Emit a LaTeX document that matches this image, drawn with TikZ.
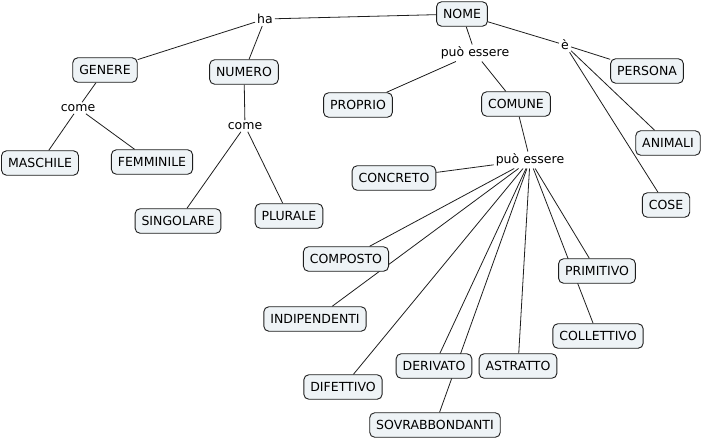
\documentclass[tikz,border=0pt]{standalone}
\usepackage{fontspec}
\setmainfont{DejaVu Sans}
\usetikzlibrary{backgrounds}
\definecolor{cfill}{RGB}{238,243,246}
\definecolor{cline}{RGB}{30,30,30}
\begin{document}
\begin{tikzpicture}[x=1pt,y=-1pt,
  concept/.style={draw=cline,fill=cfill,rounded corners=5pt,line width=0.9pt,
    inner xsep=6.5pt,inner ysep=0pt,minimum height=24.5pt,font=\fontsize{12.5}{14}\selectfont},
  linkl/.style={inner sep=2pt,font=\fontsize{12.5}{14}\selectfont},
  conn/.style={draw=cline,line width=0.8pt}]
\useasboundingbox (0,0) rectangle (709,440);
\node[concept] (nome) at (462,14) {NOME};
\node[linkl] (ha) at (265,19) {ha};
\node[concept] (genere) at (105,70) {GENERE};
\node[concept] (numero) at (244,72) {NUMERO};
\node[linkl] (come1) at (78,108) {come};
\node[linkl] (come2) at (245,126) {come};
\node[concept] (maschile) at (40,163) {MASCHILE};
\node[concept] (femminile) at (152,162) {FEMMINILE};
\node[concept] (singolare) at (178,221) {SINGOLARE};
\node[concept] (plurale) at (289,216) {PLURALE};
\node[linkl] (pe1) at (475,53) {può essere};
\node[concept] (proprio) at (358,105) {PROPRIO};
\node[concept] (comune) at (516,104) {COMUNE};
\node[linkl] (e) at (565,45) {è};
\node[concept] (persona) at (647,71) {PERSONA};
\node[concept] (animali) at (668,143) {ANIMALI};
\node[concept] (cose) at (666,205) {COSE};
\node[linkl] (pe2) at (530,160) {può essere};
\node[concept] (concreto) at (394,178) {CONCRETO};
\node[concept] (composto) at (346,259) {COMPOSTO};
\node[concept] (indip) at (315,319) {INDIPENDENTI};
\node[concept] (difettivo) at (343,387) {DIFETTIVO};
\node[concept] (derivato) at (434,366) {DERIVATO};
\node[concept] (astratto) at (518,366) {ASTRATTO};
\node[concept] (sovrab) at (435,425) {SOVRABBONDANTI};
\node[concept] (primitivo) at (597,271) {PRIMITIVO};
\node[concept] (collettivo) at (598,336) {COLLETTIVO};
\begin{scope}[on background layer]
\draw[conn] (nome) -- (ha);
\draw[conn] (ha) -- (genere);
\draw[conn] (ha) -- (numero);
\draw[conn] (genere) -- (come1);
\draw[conn] (come1) -- (maschile);
\draw[conn] (come1) -- (femminile);
\draw[conn] (numero) -- (come2);
\draw[conn] (come2) -- (singolare);
\draw[conn] (come2) -- (plurale);
\draw[conn] (nome) -- (pe1);
\draw[conn] (pe1) -- (proprio);
\draw[conn] (pe1) -- (comune);
\draw[conn] (nome) -- (e);
\draw[conn] (e) -- (persona);
\draw[conn] (e) -- (animali);
\draw[conn] (e) -- (cose);
\draw[conn] (comune) -- (pe2);
\draw[conn] (pe2) -- (concreto);
\draw[conn] (pe2) -- (composto);
\draw[conn] (pe2) -- (indip);
\draw[conn] (pe2) -- (difettivo);
\draw[conn] (pe2) -- (derivato);
\draw[conn] (pe2) -- (sovrab);
\draw[conn] (pe2) -- (astratto);
\draw[conn] (pe2) -- (primitivo);
\draw[conn] (pe2) -- (collettivo);
\end{scope}
\end{tikzpicture}
\end{document}
